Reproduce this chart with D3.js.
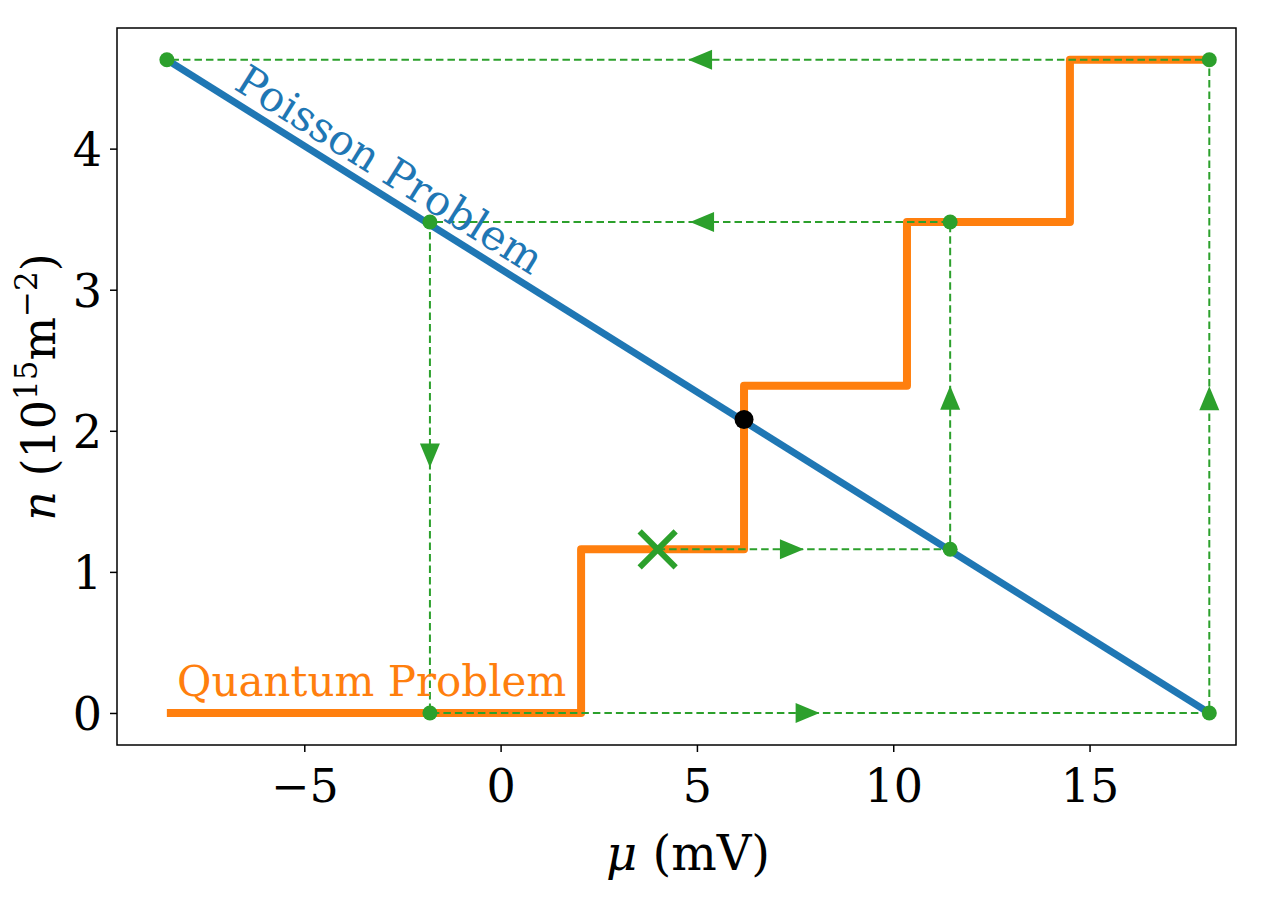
<!DOCTYPE html>
<html><head><meta charset="utf-8">
<script src="https://cdn.jsdelivr.net/npm/d3@7"></script>
<style>body{margin:0;background:#fff}text{font-family:"DejaVu Serif",serif}</style>
</head><body><svg id="c" width="1273" height="900"></svg>
<script>
// Data
const xTicks = [-5, 0, 5, 10, 15];
const yTicks = [0, 1, 2, 3, 4];
const poissonMu = [-8.5, 18.05];
const poissonN = [4.63, 0];
const quantumMu = [-8.5, 2.05, 2.05, 6.2, 6.2, 10.35, 10.35, 14.5, 14.5, 18.05];
const quantumN  = [0, 0, 1.16, 1.16, 2.32, 2.32, 3.48, 3.48, 4.63, 4.63];
const iterMu = [4.0, 11.45, 11.45, -1.8, -1.8, 18.05, 18.05, -8.5];
const iterN  = [1.16, 1.16, 3.48, 3.48, 0, 0, 4.63, 4.63];
const solution = [6.2, 2.08];
const start = [4.0, 1.16];

const svg = d3.select("#c");
const L=117, R=1236, T=28, B=745;
const x = d3.scaleLinear().domain([-9.77, 18.73]).range([L, R]);
const y = d3.scaleLinear().domain([-0.227, 4.855]).range([B, T]);
const green="#2ca02c", blue="#1f77b4", orange="#ff7f0e";

// Poisson line
svg.append("line").attr("x1",x(poissonMu[0])).attr("y1",y(poissonN[0]))
  .attr("x2",x(poissonMu[1])).attr("y2",y(poissonN[1]))
  .attr("stroke",blue).attr("stroke-width",7);
// Quantum steps
const qPts = quantumMu.map((m,i)=>[x(m), y(quantumN[i])]);
svg.append("path").attr("d", d3.line()(qPts)).attr("fill","none")
  .attr("stroke",orange).attr("stroke-width",8).attr("stroke-linejoin","round");

// Iteration path
const iPts = iterMu.map((m,i)=>[x(m), y(iterN[i])]);
svg.append("path").attr("d", d3.line()(iPts)).attr("fill","none")
  .attr("stroke",green).attr("stroke-width",2).attr("stroke-dasharray","7.5,4");
for (let i=0;i<iPts.length-1;i++){
  const [x1,y1]=iPts[i],[x2,y2]=iPts[i+1];
  const mx=(x1+x2)/2, my=(y1+y2)/2;
  const ang=Math.atan2(y2-y1,x2-x1)*180/Math.PI;
  svg.append("path").attr("d","M0,0L-24,-10L-24,10Z")
    .attr("transform",`translate(${mx},${my}) rotate(${ang})`).attr("fill",green);
}
for (let i=1;i<iPts.length;i++){
  svg.append("circle").attr("cx",iPts[i][0]).attr("cy",iPts[i][1]).attr("r",7.5).attr("fill",green);
}
const sx=x(start[0]), sy=y(start[1]);
svg.append("path").attr("d",`M${sx-18},${sy-18}L${sx+18},${sy+18}M${sx-18},${sy+18}L${sx+18},${sy-18}`)
  .attr("stroke",green).attr("stroke-width",6);
svg.append("circle").attr("cx",x(solution[0])).attr("cy",y(solution[1])).attr("r",9.5).attr("fill","#000");

// labels
const ang = Math.atan2(y(poissonN[1])-y(poissonN[0]), x(poissonMu[1])-x(poissonMu[0]))*180/Math.PI;
svg.append("text").attr("transform",`translate(382,182) rotate(${ang})`).attr("text-anchor","middle")
  .attr("fill",blue).attr("font-size",42).text("Poisson Problem");
svg.append("text").attr("x",177).attr("y",696).attr("fill",orange).attr("font-size",42).text("Quantum Problem");

// frame
svg.append("rect").attr("x",L).attr("y",T).attr("width",R-L).attr("height",B-T)
  .attr("fill","none").attr("stroke","#000").attr("stroke-width",1.5);
const xa = svg.append("g").attr("transform",`translate(0,${B})`)
  .call(d3.axisBottom(x).tickValues(xTicks).tickSize(7).tickFormat(d=>d<0?"\u2212"+Math.abs(d):d));
const ya = svg.append("g").attr("transform",`translate(${L},0)`)
  .call(d3.axisLeft(y).tickValues(yTicks).tickSize(7).tickFormat(d3.format("d")));
[xa,ya].forEach(a=>{a.select(".domain").remove();
  a.selectAll("line").attr("stroke","#000").attr("stroke-width",1.5);
  a.selectAll("text").attr("font-family","DejaVu Serif, serif").attr("font-size",46).attr("fill","#000");});
xa.selectAll("text").attr("dy","0").attr("y",57);
ya.selectAll("text").attr("x",-15).attr("dy","0.36em");

// axis titles
const xt = svg.append("text").attr("x",688).attr("y",870).attr("text-anchor","middle").attr("font-size",48);
xt.append("tspan").attr("font-style","italic").text("\u03bc");
xt.append("tspan").text(" (mV)");
const yt = svg.append("text").attr("transform","translate(55,387) rotate(-90)").attr("text-anchor","middle").attr("font-size",46);
yt.append("tspan").attr("font-style","italic").text("n");
yt.append("tspan").text(" (10");
yt.append("tspan").attr("font-size",31).attr("dy",-18).text("15");
yt.append("tspan").attr("dy",18).text("m");
yt.append("tspan").attr("font-size",31).attr("dy",-18).text("\u22122");
yt.append("tspan").attr("dy",18).text(")");
</script></body></html>
